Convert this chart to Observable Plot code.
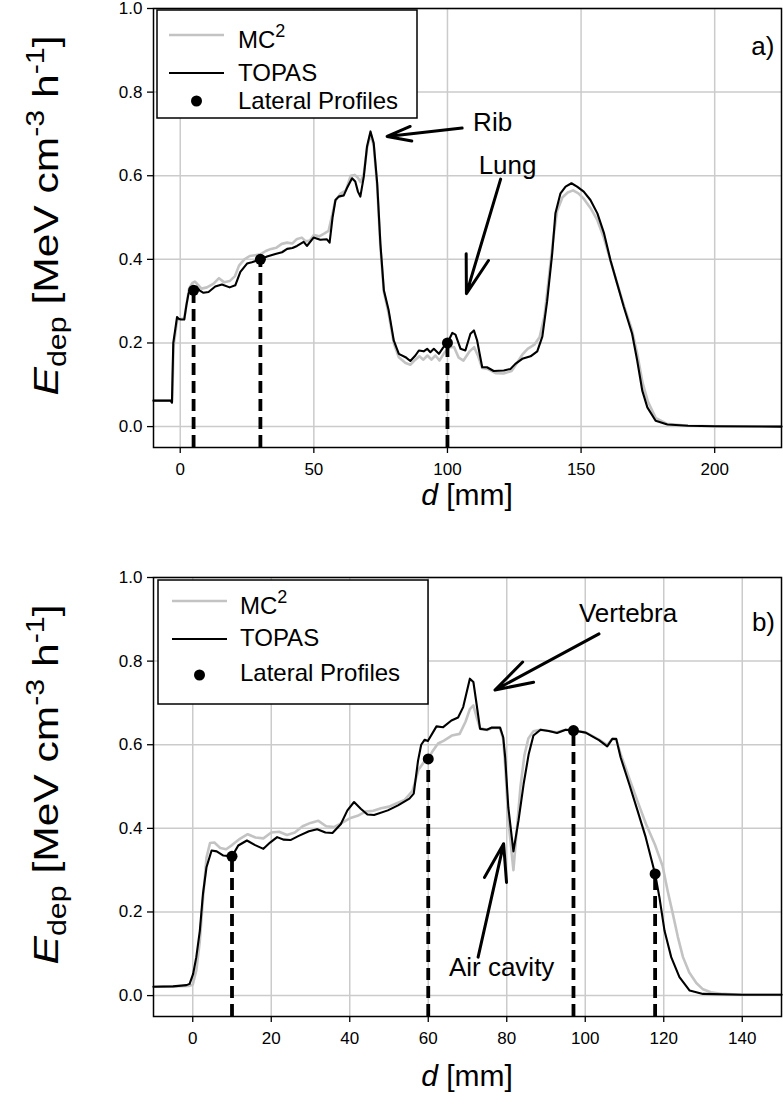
<!DOCTYPE html>
<html><head><meta charset="utf-8">
<script src="https://cdn.jsdelivr.net/npm/d3@7"></script>
<script src="https://cdn.jsdelivr.net/npm/@observablehq/plot@0.6"></script>
<style>
body{margin:0;background:#fff;font-family:"Liberation Sans",Arial,sans-serif;}
#fig{width:783px;}
#fig svg{display:block;}
</style></head><body><div id="fig"></div>
<script>
// ---------- Panel a) ----------
const aTopasD = [-10,-3.6,-3.1,-2.6,-1.8,-1.2,-0.6,0.3,1.5,2.3,3.1,4.2,5,6,7.2,8.7,10.6,13.1,15.6,18.5,20.6,22.5,25,26.8,30,32.5,35.6,38.1,40,42,43.7,46.2,47.4,49.9,52.4,54.9,55.9,57,58.1,59.3,61.2,62.5,64.3,65.5,66.5,67.4,68.7,69.9,71.2,72.4,73.7,74.9,76.2,78,79.9,81.8,84.3,86.1,88,89.3,91.1,92.4,93.6,94.9,96.8,98.5,100,101.8,103,104.9,106.7,108.6,109.9,111.1,113,114.8,117.3,121.1,123.6,125.4,128,131.1,133.6,135.5,137.3,139.2,140.4,142.3,144.2,146.4,148.5,151,153.5,156.1,158.6,161,163.5,166,169.1,171,172.9,174.8,177.9,182.3,190,200,225];
const aTopasV = [0.062,0.062,0.057,0.2,0.235,0.262,0.258,0.256,0.256,0.29,0.318,0.333,0.326,0.335,0.326,0.32,0.322,0.335,0.34,0.333,0.338,0.37,0.39,0.393,0.4,0.407,0.413,0.417,0.425,0.427,0.432,0.442,0.432,0.452,0.447,0.448,0.44,0.5,0.542,0.55,0.553,0.572,0.594,0.586,0.562,0.55,0.598,0.67,0.706,0.678,0.582,0.438,0.326,0.278,0.206,0.174,0.166,0.157,0.17,0.182,0.18,0.186,0.178,0.186,0.174,0.19,0.2,0.224,0.22,0.186,0.182,0.222,0.23,0.206,0.142,0.142,0.133,0.134,0.138,0.15,0.162,0.168,0.18,0.215,0.3,0.414,0.51,0.558,0.574,0.582,0.574,0.562,0.542,0.51,0.462,0.398,0.342,0.286,0.222,0.158,0.086,0.046,0.014,0.005,0.002,0.001,0.0];
const aMcD = [-10,-3.6,-3.0,-2.5,-1.7,-1.1,0.3,1.5,2.3,3.3,4.5,5.5,6.5,8,10,12.5,14.5,16.5,18.5,20.5,22,24,26,28,30,32,34,36,38,40,42,43.5,45.5,47,48.5,50,52,54,55.5,57,58,60,62,63.8,65.3,66.5,67.5,68.7,69.9,71.2,72.4,73.7,74.9,76.2,78,79.9,81.8,84.3,86.1,88,89.5,91,92.5,94,95.5,97,99,101,102.5,104.2,106,108.3,110,111.5,113,115,118,121,124,126,128,130,132.5,134.5,136.3,138,139.6,141,143,145,147,149,151,153.5,156,158.5,161,163.5,166,169,171,173,175,178,182,190,200,225];
const aMcV = [0.062,0.062,0.06,0.19,0.23,0.255,0.258,0.258,0.29,0.33,0.343,0.347,0.34,0.33,0.333,0.342,0.355,0.345,0.348,0.36,0.385,0.4,0.408,0.41,0.412,0.42,0.425,0.428,0.437,0.44,0.438,0.448,0.452,0.443,0.445,0.458,0.455,0.462,0.468,0.51,0.54,0.557,0.565,0.6,0.602,0.595,0.585,0.605,0.665,0.7,0.672,0.575,0.43,0.322,0.27,0.2,0.166,0.152,0.148,0.16,0.168,0.16,0.17,0.16,0.17,0.158,0.178,0.19,0.19,0.165,0.158,0.18,0.19,0.168,0.14,0.138,0.128,0.127,0.133,0.152,0.172,0.186,0.196,0.214,0.265,0.36,0.45,0.515,0.548,0.56,0.565,0.558,0.545,0.523,0.495,0.452,0.397,0.343,0.29,0.232,0.175,0.105,0.06,0.02,0.007,0.002,0.001,0.0];
const aProfD = [5, 30, 100];
const aProfV = [0.326, 0.4, 0.2];
const aXTicks = [0, 50, 100, 150, 200];
const aNoteText = ["Rib", "Lung", "a)"];
const aNoteX = [116.9, 122.5, 218];
const aNoteY = [0.727, 0.624, 0.909];
const aArrowX1 = [105.5, 119.9], aArrowY1 = [0.714, 0.592];
const aArrowX2 = [77.4, 107.1], aArrowY2 = [0.694, 0.318];

// ---------- Panel b) ----------
const bTopasD = [-10,-5,-1.6,-0.8,0.1,0.9,1.8,2.6,3.5,4.8,6.1,7.8,10,11.6,13.8,15.9,18,19.7,21.5,23.2,24.9,27,29.6,31.7,33.8,35.6,37.7,39.4,41.1,42.8,44.5,46.2,49.7,52.3,55.2,56.3,57.4,58.2,59.1,59.9,62.1,63.8,65.9,67.6,68.9,70.6,71.5,72.3,73.2,74.9,76.2,78.3,79.1,79.6,80.4,81.7,83,84.3,85.6,86.8,88.6,90.7,92.8,95,97,100.1,103.5,105.6,106.9,107.9,109,111.2,113.3,115.4,117.8,118.9,120.2,121.9,124,126.6,130,140,150];
const bTopasV = [0.021,0.022,0.025,0.028,0.052,0.092,0.155,0.243,0.307,0.347,0.345,0.335,0.333,0.359,0.371,0.36,0.351,0.366,0.379,0.373,0.372,0.382,0.393,0.398,0.39,0.389,0.41,0.443,0.463,0.447,0.433,0.432,0.443,0.455,0.471,0.483,0.562,0.6,0.612,0.609,0.644,0.642,0.658,0.665,0.69,0.758,0.75,0.698,0.638,0.636,0.641,0.641,0.618,0.57,0.45,0.345,0.419,0.506,0.578,0.622,0.636,0.633,0.628,0.636,0.634,0.629,0.611,0.596,0.614,0.614,0.57,0.506,0.443,0.379,0.291,0.235,0.155,0.092,0.044,0.012,0.004,0.002,0.002];
const bMcD = [-10,-5,-1,0,0.9,1.8,2.6,3.5,4.4,5.5,7,8.5,10,12,14,16,18,20,22,24,26,28,30,32,34,36,38,40,42,44,46,48,50,52,54,56,57.5,59,60,61,62.5,64,66,68,69.5,70.6,71.5,72.5,73.2,75,76.2,78.3,79.1,79.6,80.4,81.7,82.5,83.5,84.5,85.5,86.8,88.6,90.7,92.8,95,97,100,103.5,105.6,106.9,107.9,109,111.2,113.3,115.5,117.8,119.7,121,122.3,123.6,124.9,126.5,128.3,130,132,135,140,150];
const bMcV = [0.021,0.022,0.023,0.026,0.06,0.13,0.23,0.33,0.365,0.366,0.353,0.35,0.36,0.375,0.386,0.378,0.376,0.39,0.392,0.384,0.39,0.405,0.413,0.418,0.405,0.403,0.413,0.424,0.43,0.44,0.442,0.448,0.452,0.46,0.468,0.49,0.54,0.56,0.567,0.583,0.603,0.61,0.622,0.626,0.655,0.685,0.694,0.66,0.64,0.635,0.64,0.64,0.612,0.55,0.42,0.3,0.39,0.5,0.575,0.615,0.632,0.636,0.633,0.63,0.636,0.634,0.63,0.612,0.6,0.614,0.612,0.578,0.52,0.465,0.41,0.36,0.31,0.25,0.196,0.14,0.092,0.055,0.03,0.015,0.008,0.004,0.002,0.002];
const bProfD = [10, 60, 97, 117.8];
const bProfV = [0.333, 0.566, 0.634, 0.291];
const bXTicks = [0, 20, 40, 60, 80, 100, 120, 140];
const bNoteText = ["Vertebra", "Air cavity", "b)"];
const bNoteX = [110.9, 78.7, 145.4];
const bNoteY = [0.914, 0.067, 0.892];
const bArrowX1 = [103.5, 72.7], bArrowY1 = [0.865, 0.092];
const bArrowX2 = [77.0, 79.2], bArrowY2 = [0.731, 0.363];

// ---------- shared ----------
const yTicks = [0, 0.2, 0.4, 0.6, 0.8, 1.0];
const legendNames = ["MC", "TOPAS", "Lateral Profiles"];
const FONT = "'Liberation Sans', Arial, Helvetica, sans-serif";

const pts = (D, V) => D.map((d, i) => ({d, v: V[i]}));

function panel(cfg) {
  const W = 783, ML = 153, MR = 2;
  const svg = Plot.plot({
    width: W, height: cfg.height,
    marginLeft: ML, marginRight: MR, marginTop: cfg.mt, marginBottom: cfg.mb,
    style: {fontFamily: FONT, fontSize: "17px", background: "white", color: "black", overflow: "visible"},
    x: {domain: cfg.xDomain},
    y: {domain: [-0.05, 1.0]},
    marks: [
      Plot.gridX(cfg.xTicks, {stroke: "#cbcbcb", strokeOpacity: 1, strokeWidth: 1.5}),
      Plot.gridY(yTicks, {stroke: "#cbcbcb", strokeOpacity: 1, strokeWidth: 1.5}),
      Plot.line(cfg.mc, {x: "d", y: "v", stroke: "#c3c3c3", strokeWidth: 2.6}),
      Plot.line(cfg.topas, {x: "d", y: "v", stroke: "#000", strokeWidth: 2.1}),
      Plot.ruleX(cfg.prof, {x: "d", y1: -0.05, y2: "v", stroke: "#000", strokeWidth: 3.8, strokeDasharray: "12,6"}),
      Plot.dot(cfg.prof, {x: "d", y: "v", r: 5.5, fill: "#000", stroke: null}),
      Plot.arrow(cfg.arrows, {x1: "x1", y1: "y1", x2: "x2", y2: "y2", stroke: "#000", strokeWidth: 3, headAngle: 34, headLength: 32}),
      Plot.text(cfg.notes, {x: "x", y: "y", text: "t", fontSize: 26, fill: "#000", textAnchor: "middle", lineAnchor: "middle"}),
      Plot.frame({stroke: "#000", strokeWidth: 1.5}),
      Plot.axisX(cfg.xTicks, {tickSize: 6, tickPadding: 9, label: null, fontSize: 17, stroke: "#000", fill: "#000", strokeWidth: 1.3}),
      Plot.axisY(yTicks, {tickSize: 6, tickPadding: 5, label: null, fontSize: 17, tickFormat: d3.format(".1f"), stroke: "#000", fill: "#000", strokeWidth: 1.3})
    ]
  });
  const g = d3.select(svg);
  const frameTop = cfg.mt, frameBottom = cfg.height - cfg.mb;
  const fc = (frameTop + frameBottom) / 2;

  // y-axis title
  const t = g.append("text")
    .attr("transform", `translate(58,${fc - 12}) rotate(-90)`)
    .attr("text-anchor", "middle").attr("font-size", 35).attr("fill", "#000")
    .attr("font-family", FONT)
    .attr("textLength", 360).attr("lengthAdjust", "spacingAndGlyphs");
  t.append("tspan").attr("font-style", "italic").text("E");
  t.append("tspan").attr("font-size", 25).attr("dy", 8).text("dep");
  t.append("tspan").attr("dy", -8).text(" [MeV cm");
  t.append("tspan").attr("font-size", 25).attr("dy", -14).text("-3");
  t.append("tspan").attr("dy", 14).text(" h");
  t.append("tspan").attr("font-size", 25).attr("dy", -14).text("-1");
  t.append("tspan").attr("dy", 14).text("]");

  // x-axis title
  const xt = g.append("text")
    .attr("x", (ML + W - MR) / 2).attr("y", frameBottom + cfg.xLabelOffset)
    .attr("text-anchor", "middle").attr("font-size", 30).attr("fill", "#000")
    .attr("font-family", FONT);
  xt.append("tspan").attr("font-style", "italic").text("d");
  xt.append("tspan").text(" [mm]");

  // legend
  const L = cfg.legend;
  const lg = g.append("g").attr("transform", `translate(${ML + L.ox},${frameTop + L.oy})`)
    .attr("font-family", FONT).attr("font-size", 24).attr("fill", "#000").attr("text-anchor", "start");
  lg.append("rect").attr("width", L.w).attr("height", L.h).attr("fill", "white").attr("stroke", "#000").attr("stroke-width", 1.5);
  lg.append("line").attr("x1", L.lx1).attr("x2", L.lx2).attr("y1", L.rows[0]).attr("y2", L.rows[0]).attr("stroke", "#c3c3c3").attr("stroke-width", 2.6);
  lg.append("line").attr("x1", L.lx1).attr("x2", L.lx2).attr("y1", L.rows[1]).attr("y2", L.rows[1]).attr("stroke", "#000").attr("stroke-width", 2.1);
  lg.append("circle").attr("cx", (L.lx1 + L.lx2) / 2).attr("cy", L.rows[2]).attr("r", 5.5).attr("fill", "#000");
  const mcT = lg.append("text").attr("x", L.tx).attr("y", L.base[0]).attr("text-anchor", "start");
  mcT.append("tspan").text(legendNames[0]);
  mcT.append("tspan").attr("font-size", 18).attr("dy", -11).text("2");
  lg.append("text").attr("x", L.tx).attr("y", L.base[1]).attr("text-anchor", "start").text(legendNames[1]);
  lg.append("text").attr("x", L.tx).attr("y", L.base[2]).attr("text-anchor", "start").text(legendNames[2]);
  return svg;
}

const fig = document.getElementById("fig");
fig.appendChild(panel({
  height: 540, mt: 8, mb: 93, xLabelOffset: 58,
  xDomain: [-10, 225], xTicks: aXTicks,
  topas: pts(aTopasD, aTopasV), mc: pts(aMcD, aMcV), prof: pts(aProfD, aProfV),
  notes: aNoteText.map((t, i) => ({t, x: aNoteX[i], y: aNoteY[i]})),
  arrows: aArrowX1.map((x1, i) => ({x1, y1: aArrowY1[i], x2: aArrowX2[i], y2: aArrowY2[i]})),
  legend: {ox: 4, oy: 2, w: 260, h: 108, lx1: 12, lx2: 67, tx: 81, rows: [25, 63, 91], base: [38, 71, 99]}
}));
fig.appendChild(panel({
  height: 567, mt: 37, mb: 91, xLabelOffset: 70,
  xDomain: [-10, 150], xTicks: bXTicks,
  topas: pts(bTopasD, bTopasV), mc: pts(bMcD, bMcV), prof: pts(bProfD, bProfV),
  notes: bNoteText.map((t, i) => ({t, x: bNoteX[i], y: bNoteY[i]})),
  arrows: bArrowX1.map((x1, i) => ({x1, y1: bArrowY1[i], x2: bArrowX2[i], y2: bArrowY2[i]})),
  legend: {ox: 5, oy: 3, w: 270, h: 124, lx1: 14, lx2: 69, tx: 82, rows: [21, 59, 95], base: [34, 66, 101]}
}));
</script>
</body></html>
